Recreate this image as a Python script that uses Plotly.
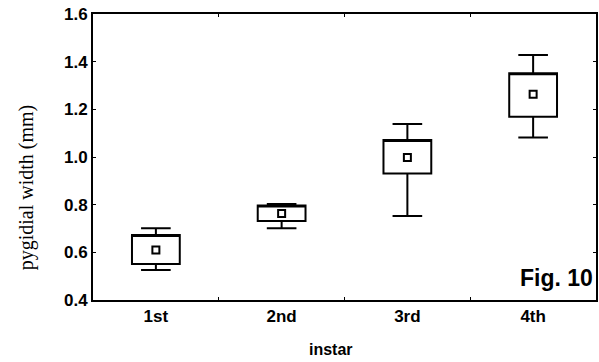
import plotly.graph_objects as go

instars = ["1st", "2nd", "3rd", "4th"]
means = [0.610, 0.763, 0.998, 1.263]
box_low = [0.551, 0.731, 0.931, 1.169]
box_high = [0.673, 0.796, 1.071, 1.351]
whisk_low = [0.526, 0.701, 0.752, 1.082]
whisk_high = [0.701, 0.803, 1.138, 1.428]
y_ticks = [0.4, 0.6, 0.8, 1.0, 1.2, 1.4, 1.6]

fig = go.Figure()
fig.add_trace(go.Box(
    x=instars, q1=box_low, median=box_high, q3=box_high,
    lowerfence=whisk_low, upperfence=whisk_high,
    width=0.38, whiskerwidth=0.62,
    line=dict(color="black", width=2), fillcolor="white",
    boxpoints=False, hoverinfo="skip", showlegend=False,
))
fig.add_trace(go.Scatter(
    x=instars, y=means, mode="markers",
    marker=dict(symbol="square-open", size=7, color="black", line=dict(width=2)),
    hoverinfo="skip", showlegend=False,
))

axis_font = dict(family="Liberation Sans, Arial", size=17, color="black")
fig.update_layout(
    width=599, height=362,
    margin=dict(l=93, r=1, t=14, b=62),
    plot_bgcolor="white", paper_bgcolor="white",
    xaxis=dict(
        type="category", categoryorder="array", categoryarray=instars,
        range=[-0.5, 3.5], tickson="boundaries",
        tickvals=instars, ticktext=[f"<b>{c}</b>" for c in instars],
        showline=True, linecolor="black", linewidth=2, mirror="ticks",
        ticks="inside", ticklen=3, tickcolor="black",
        showgrid=False, zeroline=False,
        tickfont=axis_font,
    ),
    yaxis=dict(
        range=[0.4, 1.6], tickvals=y_ticks, ticktext=[f"<b>{v:.1f}</b>" for v in y_ticks],
        showline=True, linecolor="black", linewidth=2, mirror="ticks",
        ticks="inside", ticklen=3, tickcolor="black",
        showgrid=False, zeroline=False,
        tickfont=axis_font,
    ),
    annotations=[
        dict(text="<b>instar</b>", x=332, y=349, xref="paper", yref="paper",
             showarrow=False, font=dict(family="Liberation Sans, Arial", size=16, color="black"),
             xanchor="center", yanchor="middle"),
        dict(text="pygidial width (mm)", x=26, y=187, xref="paper", yref="paper",
             showarrow=False, textangle=-90,
             font=dict(family="Liberation Serif, Times New Roman", size=20, color="black"),
             xanchor="center", yanchor="middle"),
        dict(text="<b>Fig. 10</b>", x=558, y=278, xref="paper", yref="paper",
             showarrow=False, font=dict(family="Liberation Sans, Arial", size=23, color="black"),
             xanchor="center", yanchor="middle"),
    ],
)
# convert pixel-based annotation positions to paper coordinates
pw = 599 - 93 - 1
ph = 362 - 14 - 62
for a in fig.layout.annotations:
    a.x = (a.x - 93) / pw
    a.y = (362 - 62 - a.y) / ph

fig.write_html("out.html")
